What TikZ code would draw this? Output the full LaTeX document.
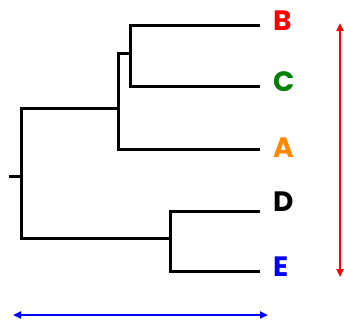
\documentclass[tikz,border=0pt]{standalone}
\usepackage{fontspec}
\setmainfont{Poppins}
\usetikzlibrary{arrows.meta}

\begin{document}
\begin{tikzpicture}[>={Triangle[length=8pt,width=7pt]},x=1pt,y=-1pt,
  tree/.style={line width=3pt},
  taxon/.style={anchor=west,inner sep=0pt,font=\bfseries\fontsize{28}{28}\selectfont}]
  \useasboundingbox (0,0) rectangle (344,325);

  % taxa
  \node[taxon,text=red] (B) at (273,21) {B};
  \node[taxon,text={rgb,255:red,0;green,128;blue,0}] (C) at (273,82) {C};
  \node[taxon,text={rgb,255:red,255;green,136;blue,0}] (A) at (273,148) {A};
  \node[taxon] (D) at (273,202) {D};
  \node[taxon,text=blue] (E) at (273,267) {E};

  % leaf tips
  \coordinate (b) at (260,25);
  \coordinate (c) at (260,86);
  \coordinate (a) at (260,149);
  \coordinate (d) at (260,211);
  \coordinate (e) at (260,271);

  % inner nodes
  \coordinate (BC) at (130,53);
  \coordinate (ABC) at (118,108);
  \coordinate (DE) at (170,238);
  \coordinate (root) at (21,176);
  \coordinate (stub) at (9,176);

  \draw[tree] (BC) |- (b);
  \draw[tree] (BC) |- (c);
  \draw[tree] (ABC) |- (BC);
  \draw[tree] (ABC) |- (a);
  \draw[tree] (DE) |- (d);
  \draw[tree] (DE) |- (e);
  \draw[tree] (root) |- (ABC);
  \draw[tree] (root) |- (DE);
  \draw[tree] (stub) -- (root);

  % scale arrows
  \coordinate (top) at (340,23);
  \coordinate (bot) at (340,277);
  \coordinate (lft) at (13,315);
  \coordinate (rgt) at (268,315);
  \draw[<->,red,line width=2pt] (top) -- (bot);
  \draw[<->,blue,line width=2.5pt] (lft) -- (rgt);
\end{tikzpicture}
\end{document}
